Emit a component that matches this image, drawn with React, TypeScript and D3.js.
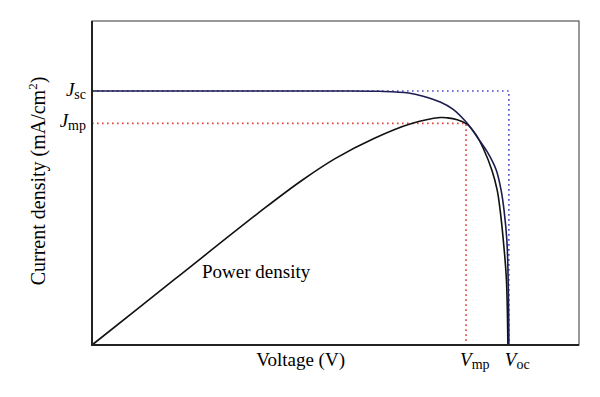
import React from 'react';
import * as d3 from 'd3';

// points (voltage, current density in arbitrary units)
const jvVoltage = [0, 2.5, 5.0, 5.9, 6.5, 6.8, 7.15, 7.41, 7.7, 7.95, 8.12, 8.3, 8.4, 8.46, 8.52, 8.55, 8.56];
const jvCurrent = [7.84, 7.84, 7.84, 7.83, 7.78, 7.68, 7.5, 7.28, 6.85, 6.33, 5.95, 5.4, 4.78, 4.17, 3.2, 1.6, 0];

const powerVoltage = [0, 1.7, 3.55, 4.3, 5.0, 5.8, 6.53, 7.15, 7.3, 7.5, 7.7, 7.88, 8.04, 8.21, 8.32, 8.38, 8.46, 8.51, 8.54];
const powerValue = [0, 2.03, 4.23, 5.07, 5.76, 6.38, 6.82, 7.02, 7.01, 6.95, 6.82, 6.5, 6.05, 5.4, 4.78, 4.17, 3.0, 2.0, 0];

const Jsc = 7.84;
const Jmp = 6.84;
const Vmp = 7.68;
const Voc = 8.56;

const W = 600;
const H = 397;
const margin = { left: 92, right: 21, top: 21, bottom: 52 };

export default function App() {
  const x = d3.scaleLinear([0, 10], [margin.left, W - margin.right]);
  const y = d3.scaleLinear([0, 10], [H - margin.bottom, margin.top]);

  const line = d3
    .line<[number, number]>()
    .x((d) => x(d[0]))
    .y((d) => y(d[1]))
    .curve(d3.curveCatmullRom.alpha(0.5));

  const jv = jvVoltage.map((v, i) => [v, jvCurrent[i]] as [number, number]);
  const pw = powerVoltage.map((v, i) => [v, powerValue[i]] as [number, number]);

  const font = '"Liberation Serif", "DejaVu Serif", serif';
  const x0 = x(0);
  const y0 = y(0);

  return (
    <svg width={W} height={H} style={{ display: 'block', margin: -8 }} fontFamily={font}>
      <rect width={W} height={H} fill="#fff" />
      {/* dotted guides */}
      <path
        d={`M${x0},${y(Jsc)}H${x(Voc)}V${y0}`}
        fill="none"
        stroke="#4a4ad0"
        strokeWidth={1.6}
        strokeDasharray="1.6 3.4"
      />
      <path
        d={`M${x0},${y(Jmp)}H${x(Vmp)}V${y0}`}
        fill="none"
        stroke="#e8403c"
        strokeWidth={1.6}
        strokeDasharray="1.6 3.4"
      />
      <path d={line(pw) ?? ''} fill="none" stroke="#111" strokeWidth={1.6} />
      <path d={line(jv) ?? ''} fill="none" stroke="#1c1c50" strokeWidth={1.6} />
      {/* frame */}
      <rect
        x={x0}
        y={margin.top}
        width={W - margin.right - x0}
        height={y0 - margin.top}
        fill="none"
        stroke="#555"
        strokeWidth={1.2}
      />
      <path d={`M${x0},${margin.top}V${y0}H${W - margin.right}`} fill="none" stroke="#222" strokeWidth={2} />

      <text x={x0 - 6} y={y(Jsc) + 5} textAnchor="end" fontSize={19}>
        <tspan fontStyle="italic">J</tspan>
        <tspan fontSize={14} dy={3}>sc</tspan>
      </text>
      <text x={x0 - 6} y={y(Jmp) + 4} textAnchor="end" fontSize={19}>
        <tspan fontStyle="italic">J</tspan>
        <tspan fontSize={14} dy={3}>mp</tspan>
      </text>
      <text x={x(Vmp) - 6} y={366} fontSize={19}>
        <tspan fontStyle="italic">V</tspan>
        <tspan fontSize={14} dy={3}>mp</tspan>
      </text>
      <text x={x(Voc) - 4} y={366} fontSize={19}>
        <tspan fontStyle="italic">V</tspan>
        <tspan fontSize={14} dy={3}>oc</tspan>
      </text>
      <text x={345} y={366} textAnchor="end" fontSize={19}>
        Voltage (V)
      </text>
      <text x={202} y={278} fontSize={19}>
        Power density
      </text>
      <text
        transform={`translate(45,${(margin.top + y0) / 2 - 2}) rotate(-90)`}
        textAnchor="middle"
        fontSize={20}
      >
        Current density (mA/cm
        <tspan fontSize={13} dy={-8}>2</tspan>
        <tspan dy={8}>)</tspan>
      </text>
    </svg>
  );
}
